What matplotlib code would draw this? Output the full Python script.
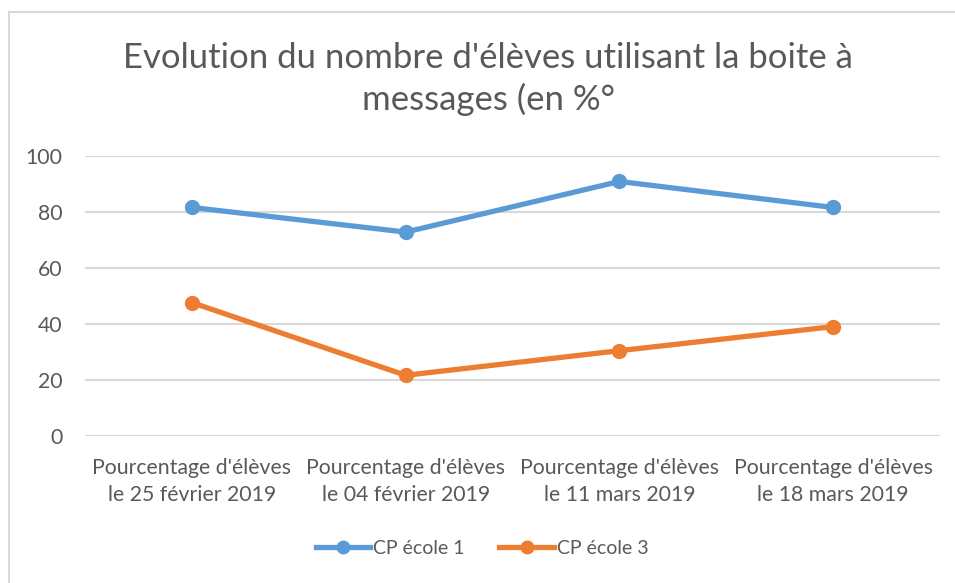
import matplotlib
matplotlib.use("Agg")
import matplotlib.pyplot as plt
from matplotlib.lines import Line2D

plt.rcParams['font.family'] = ['Lato', 'DejaVu Sans']

categories = [
    "Pourcentage d'élèves\nle 25 février 2019",
    "Pourcentage d'élèves\nle 04 février 2019",
    "Pourcentage d'élèves\nle 11 mars 2019",
    "Pourcentage d'élèves\nle 18 mars 2019",
]
ecole1 = [81.6, 72.8, 90.9, 81.6]
ecole3 = [47.6, 21.6, 30.4, 39.0]
yticks = [0, 20, 40, 60, 80, 100]

BLUE = "#5B9BD5"
ORANGE = "#ED7D31"
TEXT = "#595959"
GRID = "#D9D9D9"

fig = plt.figure(figsize=(9.55, 5.83), dpi=100)
ax = fig.add_axes([85 / 955, 1 - 435.7 / 583, 855 / 955, (435.7 - 156) / 583])

x = list(range(len(categories)))
ax.plot(x, ecole1, color=BLUE, lw=3.8, marker="o", ms=10, label="CP école 1",
        solid_capstyle="round", zorder=3)
ax.plot(x, ecole3, color=ORANGE, lw=3.8, marker="o", ms=10, label="CP école 3",
        solid_capstyle="round", zorder=3)

ax.set_xlim(-0.5, len(categories) - 0.5)
ax.set_ylim(0, 100)
ax.set_yticks(yticks)
ax.set_yticklabels([str(v) for v in yticks])
ax.set_xticks(x)
ax.set_xticklabels(categories, linespacing=1.45)
ax.yaxis.grid(True, color=GRID, lw=1.5)
ax.set_axisbelow(True)
for s in ax.spines.values():
    s.set_visible(False)
ax.tick_params(axis="both", length=0, colors=TEXT, labelsize=15.3)
ax.tick_params(axis="y", pad=16)
ax.tick_params(axis="x", pad=16)

fig.text(488 / 955, 1 - 79 / 583, "Evolution du nombre d'élèves utilisant la boite à\nmessages (en %°",
         ha="center", va="center", fontsize=25, color=TEXT, linespacing=1.3)

handles = [
    Line2D([], [], color=BLUE, lw=3.8, marker="o", ms=9),
    Line2D([], [], color=ORANGE, lw=3.8, marker="o", ms=9),
]
fig.legend(handles, ["CP école 1", "CP école 3"], loc="center",
           bbox_to_anchor=(482 / 955, 1 - 548 / 583), ncol=2, frameon=False,
           fontsize=14, labelcolor=TEXT, handlelength=2.8, handletextpad=0.15,
           columnspacing=1.8)

# light frame around the chart area
fig.add_artist(Line2D([8.5 / 955, 1], [1 - 12 / 583, 1 - 12 / 583],
                      transform=fig.transFigure, color="#D9D9D9", lw=1.5))
fig.add_artist(Line2D([8.5 / 955, 8.5 / 955], [0, 1 - 12 / 583],
                      transform=fig.transFigure, color="#D9D9D9", lw=1.5))

fig.savefig("out.png", dpi=100, facecolor="white")
